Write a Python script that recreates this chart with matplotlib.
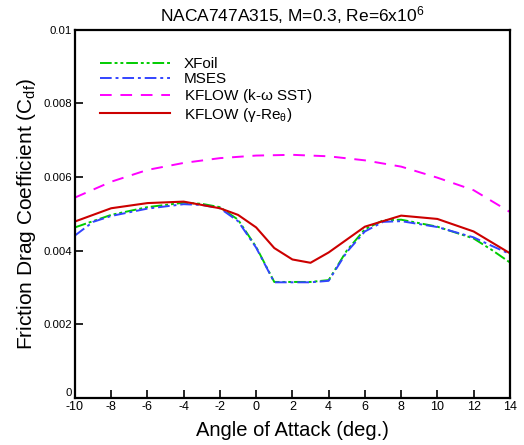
import numpy as np
import matplotlib
matplotlib.use('Agg')
import matplotlib.pyplot as plt

plt.rcParams['font.family'] = ['Liberation Sans', 'DejaVu Sans']
plt.rcParams['mathtext.fontset'] = 'custom'
plt.rcParams['mathtext.rm'] = 'Liberation Sans'
plt.rcParams['mathtext.it'] = 'Liberation Sans'
plt.rcParams['axes.unicode_minus'] = False

# angle of attack (deg.)
alpha_xf = [-10, -9, -8, -6, -4, -3, -2, -1, 0, 1, 2, 3, 4, 5, 6, 7, 8, 10, 12, 13, 14]
cdf_xf = [0.00463, 0.00480, 0.00497, 0.00518, 0.00530, 0.00527, 0.00518, 0.00484, 0.00410,
          0.00315, 0.00315, 0.00315, 0.00320, 0.00400, 0.00458, 0.00482, 0.00484, 0.00465,
          0.00433, 0.00402, 0.00368]

alpha_ms = [-10, -9, -8, -6, -4, -3, -2, -1, 0, 1, 2, 3, 4, 5, 6, 7, 8, 10, 12, 13, 14]
cdf_ms = [0.00441, 0.00478, 0.00494, 0.00514, 0.00526, 0.00524, 0.00515, 0.00480, 0.00408,
          0.00314, 0.00314, 0.00314, 0.00318, 0.00396, 0.00452, 0.00478, 0.00480, 0.00464,
          0.00436, 0.00413, 0.00391]

alpha_sst = [-10, -8, -6, -4, -2, 0, 2, 4, 6, 8, 10, 12, 14]
cdf_sst = [0.00544, 0.00587, 0.00619, 0.00638, 0.00651, 0.00658, 0.00660, 0.00656,
           0.00645, 0.00628, 0.00598, 0.00564, 0.00505]

alpha_gr = [-10, -8, -6, -4, -2, -1, 0, 1, 2, 3, 4, 6, 8, 10, 12, 14]
cdf_gr = [0.00479, 0.00515, 0.00529, 0.00533, 0.00515, 0.00497, 0.00463, 0.00407,
          0.00376, 0.00367, 0.00395, 0.00465, 0.00495, 0.00486, 0.00452, 0.00393]

fig = plt.figure(figsize=(5.24, 4.45), dpi=100)
ax = fig.add_axes([0.143, 0.1056, 0.83, 0.828])

ax.plot(alpha_xf, cdf_xf, color='#00cc00', lw=1.4, dashes=[6, 1.5, 1.5, 1.5, 1.5, 1.5],
        label='XFoil')
ax.plot(alpha_ms, cdf_ms, color='#3344ff', lw=1.4, dashes=[6, 2, 1.5, 2], label='MSES')
ax.plot(alpha_sst, cdf_sst, color='#ff00ff', lw=1.4, dashes=[6, 4.5],
        label='KFLOW (k-$\\omega$ SST)')
ax.plot(alpha_gr, cdf_gr, color='#cc0000', lw=1.5, label='KFLOW ($\\gamma$-Re$_\\theta$)')

ax.set_xlim(-10, 14)
ax.set_ylim(0, 0.01)
ax.set_xticks(np.arange(-10, 15, 2))
ax.set_yticks([0, 0.002, 0.004, 0.006, 0.008, 0.01])
ax.set_yticklabels(['0', '0.002', '0.004', '0.006', '0.008', '0.01'])
ax.tick_params(direction='in', length=6, width=1.2, top=False, right=False)
ax.tick_params(axis='x', labelsize=9, pad=2)
ax.tick_params(axis='y', labelsize=8.2, pad=2)
ax.get_yticklabels()[0].set_va('bottom')
for s in ax.spines.values():
    s.set_linewidth(1.6)

ax.set_title('NACA747A315, M=0.3, Re=6x10$^6$', fontsize=12.5, pad=6)
ax.set_xlabel('Angle of Attack (deg.)', fontsize=14.5, labelpad=6)
ax.set_ylabel('Friction Drag Coefficient (C$_{df}$)', fontsize=15, labelpad=4)

ax.legend(loc='upper left', bbox_to_anchor=(0.04, 0.945), frameon=False, fontsize=11,
          handlelength=4.6, handletextpad=0.9, labelspacing=0.05, borderpad=0)

fig.savefig('out.png', dpi=100)
